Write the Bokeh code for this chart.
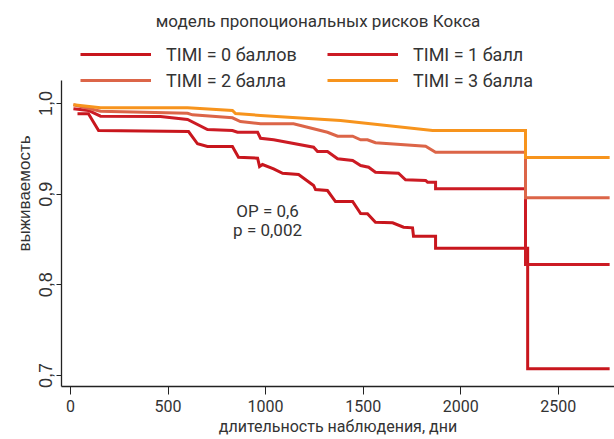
from bokeh.plotting import figure
from bokeh.models import Range1d, FixedTicker, CustomJSTickFormatter, Legend, LegendItem, Label
from bokeh.embed import file_html
from bokeh.resources import INLINE

# ---------------- data ----------------
title_text = "модель пропоциональных рисков Кокса"
x_label = "длительность наблюдения, дни"
y_label = "выживаемость"
x_ticks = [0, 500, 1000, 1500, 2000, 2500]
y_ticks = [0.7, 0.8, 0.9, 1.0]
hr_text = "ОР = 0,6"
p_text = "p = 0,002"

series_names = ["TIMI = 0 баллов", "TIMI = 1 балл", "TIMI = 2 балла", "TIMI = 3 балла"]
series_colors = ["#c8161d", "#cc1b24", "#dc6548", "#f7941d"]

timi0_days = [36, 92, 144, 605, 651, 702, 830, 861, 959, 969, 984, 1041, 1087, 1169, 1246, 1256,
              1317, 1358, 1446, 1487, 1522, 1563, 1651, 1707, 1753, 1758, 1871, 1871, 2343, 2343, 2763]
timi0_surv = [0.9886, 0.9886, 0.9702, 0.9691, 0.9556, 0.9526, 0.9526, 0.9408, 0.9397, 0.9305, 0.9327,
              0.9280, 0.9231, 0.9217, 0.9096, 0.9051, 0.9040, 0.8919, 0.8919, 0.8787, 0.8784, 0.8691,
              0.8684, 0.8636, 0.8629, 0.8536, 0.8536, 0.8404, 0.8404, 0.7074, 0.7074]

timi1_days = [15, 92, 154, 461, 600, 702, 830, 856, 959, 974, 1041, 1246, 1266, 1317, 1369, 1446,
              1487, 1528, 1563, 1681, 1717, 1820, 1830, 1871, 1871, 2332, 2332, 2763]
timi1_surv = [0.9942, 0.9923, 0.9860, 0.9857, 0.9824, 0.9713, 0.9702, 0.9683, 0.9683, 0.9617, 0.9600,
              0.9518, 0.9471, 0.9471, 0.9390, 0.9371, 0.9316, 0.9297, 0.9242, 0.9231, 0.9158, 0.9151,
              0.9132, 0.9132, 0.9059, 0.9059, 0.8224, 0.8224]

timi2_days = [15, 154, 600, 625, 830, 871, 974, 1143, 1179, 1317, 1369, 1446, 1487, 1522, 1563,
              1820, 1871, 2332, 2332, 2763]
timi2_surv = [0.9986, 0.9915, 0.9893, 0.9875, 0.9842, 0.9801, 0.9776, 0.9776, 0.9757, 0.9683, 0.9639,
              0.9639, 0.9600, 0.9600, 0.9567, 0.9529, 0.9463, 0.9463, 0.8960, 0.8960]

timi3_days = [15, 154, 600, 830, 846, 974, 1384, 1856, 2332, 2332, 2763]
timi3_surv = [0.9986, 0.9953, 0.9953, 0.9923, 0.9890, 0.9868, 0.9813, 0.9702, 0.9702, 0.9404, 0.9404]

all_days = [timi0_days, timi1_days, timi2_days, timi3_days]
all_surv = [timi0_surv, timi1_surv, timi2_surv, timi3_surv]

# ---------------- styling ----------------
FONT = "Roboto"
AXFONT = "Liberation Sans"
TXT = "#333333"

# frame spans the whole top so that title & legend can sit inside it;
# the y axis itself is bounded to the data area
Y_AXIS_LO, Y_AXIS_HI = 0.6879, 1.0254

p = figure(width=614, height=439, output_backend="svg", toolbar_location=None,
           x_range=Range1d(-46, 2788), y_range=Range1d(Y_AXIS_LO, 1.1136),
           min_border_left=61, min_border_right=0, min_border_top=0, min_border_bottom=53)
p.outline_line_color = None
p.xgrid.visible = False
p.ygrid.visible = False
p.background_fill_color = "white"
p.border_fill_color = "white"

renderers = []
for d, s, c in zip(all_days, all_surv, series_colors):
    r = p.line(d, s, line_color=c, line_width=3, line_join="miter")
    renderers.append(r)

# axes
xa = p.xaxis[0]
xa.ticker = FixedTicker(ticks=x_ticks)
xa.minor_tick_line_color = None
xa.major_tick_out = 8
xa.major_tick_in = 0
xa.axis_line_color = "#222222"
xa.major_tick_line_color = "#222222"
xa.axis_line_width = 1.3
xa.major_label_text_font = FONT
xa.major_label_text_font_size = "16px"
xa.major_label_text_color = TXT
xa.major_label_standoff = 5
xa.axis_label = x_label
xa.axis_label_text_font = FONT
xa.axis_label_text_font_size = "16px"
xa.axis_label_text_font_style = "normal"
xa.axis_label_text_color = TXT
xa.axis_label_standoff = 2

ya = p.yaxis[0]
ya.bounds = (Y_AXIS_LO, Y_AXIS_HI)
ya.ticker = FixedTicker(ticks=y_ticks)
ya.formatter = CustomJSTickFormatter(code="return tick.toFixed(1).replace('.', ',');")
ya.minor_tick_line_color = None
ya.major_tick_out = 5
ya.major_tick_in = 0
ya.axis_line_color = "#222222"
ya.major_tick_line_color = "#222222"
ya.axis_line_width = 1.3
ya.major_label_orientation = "vertical"
ya.major_label_text_font = AXFONT
ya.major_label_text_font_size = "18px"
ya.major_label_text_color = TXT
ya.major_label_standoff = 4
ya.axis_label = y_label
ya.axis_label_text_font = AXFONT
ya.axis_label_text_font_size = "17px"
ya.axis_label_text_font_style = "normal"
ya.axis_label_text_color = TXT
ya.axis_label_standoff = 3

# title (frame-relative screen coordinates)
p.add_layout(Label(x=256.5, y=366, x_units="screen", y_units="screen", text=title_text,
                   text_font=FONT, text_font_size="17px", text_color=TXT,
                   text_align="center", text_baseline="middle"))

# HR annotation
p.add_layout(Label(x=1010, y=0.882, text=hr_text, text_font=FONT, text_font_size="17px",
                   text_color=TXT, text_align="center", text_baseline="middle"))
p.add_layout(Label(x=1010, y=0.860, text=p_text, text_font=FONT, text_font_size="17px",
                   text_color=TXT, text_align="center", text_baseline="middle"))

legend = Legend(items=[LegendItem(label=n, renderers=[r]) for n, r in zip(series_names, renderers)],
                location=(19, 295), orientation="horizontal", ncols=2,
                glyph_width=71, glyph_height=22, label_height=22, label_width=157,
                label_standoff=15, spacing=4, padding=0, margin=0,
                label_text_font=FONT, label_text_font_size="18px", label_text_color=TXT,
                background_fill_alpha=0, border_line_color=None)
p.add_layout(legend, "center")

open("out.html", "w").write(file_html(p, INLINE))
